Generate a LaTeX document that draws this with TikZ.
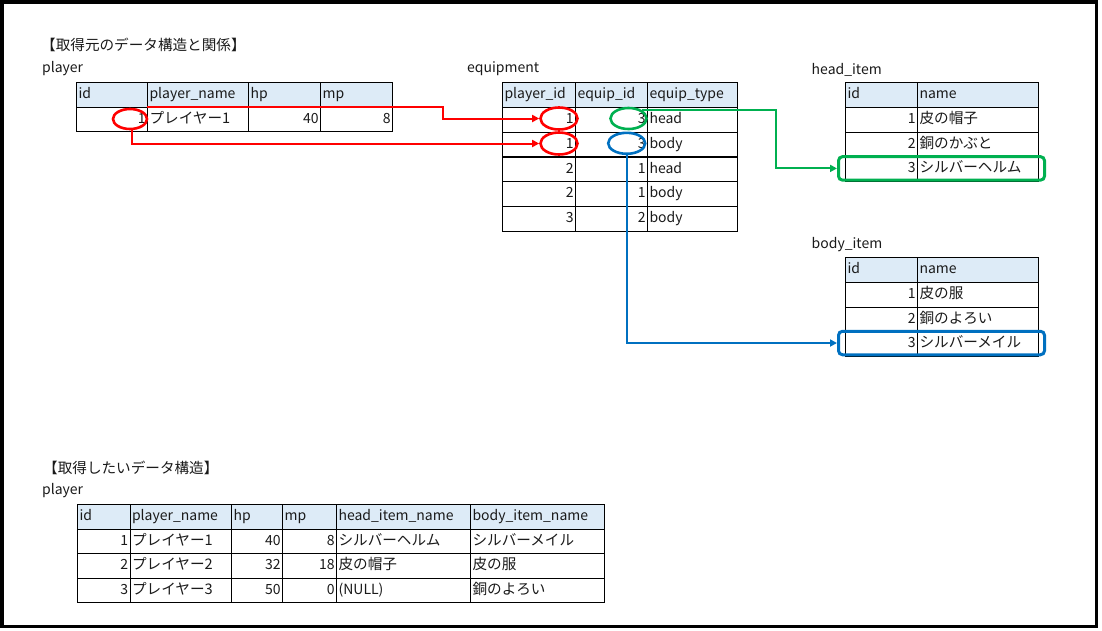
\documentclass[tikz,border=0pt]{standalone}
\usepackage{fontspec}
\setmainfont{Noto Sans CJK JP}
\usetikzlibrary{shapes.geometric,arrows.meta,calc}
\definecolor{hdr}{HTML}{DDEBF7}
\definecolor{xred}{HTML}{FF0000}
\definecolor{xgreen}{HTML}{00B050}
\definecolor{xblue}{HTML}{0070C0}
\definecolor{ink}{HTML}{1A1A1A}
\newcommand\tcell[6]{\node[#1,text width=#5pt] (#2) at (#3,#4) {#6};}
\newcommand\J[1]{{\fontsize{14.6}{16}\selectfont #1}}
\begin{document}
\begin{tikzpicture}[x=1pt,y=-1pt,
  every node/.style={font=\fontsize{14}{16}\selectfont, text=ink},
  cellbox/.style={draw=black, line width=1.1pt, anchor=north west, inner xsep=2pt, inner ysep=0pt,
    text height=10.5pt, text depth=3pt, minimum height=24.75pt},
  hd/.style={cellbox, fill=hdr, align=left},
  cl/.style={cellbox, align=left},
  cr/.style={cellbox, align=right},
  lbl/.style={anchor=west, inner sep=0pt},
  oval/.style={ellipse, draw=#1, line width=2.6pt, inner sep=0pt},
  hilite/.style={draw=#1, line width=3pt, rounded corners=4pt, inner sep=0pt, minimum width=206pt, minimum height=23.5pt},
  conn/.style={draw=#1, line width=2pt, -{Triangle[length=7pt,width=7pt]}}
]
\useasboundingbox (0,0) rectangle (1102,630);
\draw[line width=3.5pt] (1.75,2) rectangle (1096.6,626.3);

% titles and labels
\node[lbl] (t1) at (41,44.7) {\J{【取得元のデータ構造と関係】}};
\node[lbl] (l1) at (42,69) {player};
\node[lbl] (l2) at (467,69) {equipment};
\node[lbl] (l3) at (811.5,70) {head\_item};
\node[lbl] (l4) at (811.5,245) {body\_item};
\node[lbl] (t2) at (43,468) {\J{【取得したいデータ構造】}};
\node[lbl] (l5) at (42,491) {player};

% player (source)
\tcell{hd}{ph1}{76}{82}{67}{id}
\tcell{hd}{ph2}{147}{82}{97}{player\_name}
\tcell{hd}{ph3}{248}{82}{68}{hp}
\tcell{hd}{ph4}{320}{82}{68}{mp}
\tcell{cr}{pa1}{76}{106.5}{67}{1}
\tcell{cl}{pa2}{147}{106.5}{97}{\J{プレイヤー1}}
\tcell{cr}{pa3}{248}{106.5}{68}{40}
\tcell{cr}{pa4}{320}{106.5}{68}{8}

% equipment
\tcell{hd}{eh1}{502}{82}{69}{player\_id}
\tcell{hd}{eh2}{575}{82}{68}{equip\_id}
\tcell{hd}{eh3}{647}{82}{86}{equip\_type}
\tcell{cr}{ea1}{502}{106.8}{69}{1}
\tcell{cr}{ea2}{575}{106.8}{68}{3}
\tcell{cl}{ea3}{647}{106.8}{86}{head}
\tcell{cr}{eb1}{502}{131.7}{69}{1}
\tcell{cr}{eb2}{575}{131.7}{68}{3}
\tcell{cl}{eb3}{647}{131.7}{86}{body}
\tcell{cr}{ec1}{502}{156.5}{69}{2}
\tcell{cr}{ec2}{575}{156.5}{68}{1}
\tcell{cl}{ec3}{647}{156.5}{86}{head}
\tcell{cr}{ed1}{502}{181.3}{69}{2}
\tcell{cr}{ed2}{575}{181.3}{68}{1}
\tcell{cl}{ed3}{647}{181.3}{86}{body}
\tcell{cr}{ee1}{502}{206.2}{69}{3}
\tcell{cr}{ee2}{575}{206.2}{68}{2}
\tcell{cl}{ee3}{647}{206.2}{86}{body}

% head_item
\tcell{hd}{hh1}{845}{82}{68}{id}
\tcell{hd}{hh2}{917}{82}{117}{name}
\tcell{cr}{ha1}{845}{106.75}{68}{1}
\tcell{cl}{ha2}{917}{106.75}{117}{\J{皮の帽子}}
\tcell{cr}{hb1}{845}{131.5}{68}{2}
\tcell{cl}{hb2}{917}{131.5}{117}{\J{銅のかぶと}}
\tcell{cr}{hc1}{845}{156.25}{68}{3}
\tcell{cl}{hc2}{917}{156.25}{117}{\J{シルバーヘルム}}

% body_item
\tcell{hd}{bh1}{845}{257}{68}{id}
\tcell{hd}{bh2}{917}{257}{117}{name}
\tcell{cr}{ba1}{845}{281.75}{68}{1}
\tcell{cl}{ba2}{917}{281.75}{117}{\J{皮の服}}
\tcell{cr}{bb1}{845}{306.5}{68}{2}
\tcell{cl}{bb2}{917}{306.5}{117}{\J{銅のよろい}}
\tcell{cr}{bc1}{845}{331.25}{68}{3}
\tcell{cl}{bc2}{917}{331.25}{117}{\J{シルバーメイル}}

% player (wanted)
\tcell{hd}{qh1}{77}{504}{48.5}{id}
\tcell{hd}{qh2}{129.5}{504}{97.5}{player\_name}
\tcell{hd}{qh3}{231}{504}{47}{hp}
\tcell{hd}{qh4}{282}{504}{50}{mp}
\tcell{hd}{qh5}{336}{504}{130}{head\_item\_name}
\tcell{hd}{qh6}{470}{504}{129.5}{body\_item\_name}
\tcell{cr}{qa1}{77}{528.5}{48.5}{1}
\tcell{cl}{qa2}{129.5}{528.5}{97.5}{\J{プレイヤー1}}
\tcell{cr}{qa3}{231}{528.5}{47}{40}
\tcell{cr}{qa4}{282}{528.5}{50}{8}
\tcell{cl}{qa5}{336}{528.5}{130}{\J{シルバーヘルム}}
\tcell{cl}{qa6}{470}{528.5}{129.5}{\J{シルバーメイル}}
\tcell{cr}{qb1}{77}{553}{48.5}{2}
\tcell{cl}{qb2}{129.5}{553}{97.5}{\J{プレイヤー2}}
\tcell{cr}{qb3}{231}{553}{47}{32}
\tcell{cr}{qb4}{282}{553}{50}{18}
\tcell{cl}{qb5}{336}{553}{130}{\J{皮の帽子}}
\tcell{cl}{qb6}{470}{553}{129.5}{\J{皮の服}}
\tcell{cr}{qc1}{77}{577.5}{48.5}{3}
\tcell{cl}{qc2}{129.5}{577.5}{97.5}{\J{プレイヤー3}}
\tcell{cr}{qc3}{231}{577.5}{47}{50}
\tcell{cr}{qc4}{282}{577.5}{50}{0}
\tcell{cl}{qc5}{336}{577.5}{130}{(NULL)}
\tcell{cl}{qc6}{470}{577.5}{129.5}{\J{銅のよろい}}

% highlight ovals
\node[oval=xred, minimum width=34pt, minimum height=20pt] (e0) at (130,119) {};
\node[oval=xred, minimum width=37pt, minimum height=22pt] (er1) at (559,118.5) {};
\node[oval=xred, minimum width=37pt, minimum height=22pt] (er2) at (559,143.5) {};
\node[oval=xgreen, minimum width=36pt, minimum height=21pt] (eg) at (628.5,118.5) {};
\node[oval=xblue, minimum width=37pt, minimum height=21pt] (ebl) at (626.7,143.3) {};

% highlight boxes
\node[hilite=xgreen] (hg) at (941.5,168.4) {};
\node[hilite=xblue] (hb) at (941.5,343) {};

% connectors
\coordinate (rx) at (443,0);
\coordinate (gx) at (775.5,0);
\draw[conn=xred] (pa2.north west) -| (rx |- er1.west) -- (er1.west);
\draw[conn=xred] (e0.-80) |- (er2.west);
\draw[conn=xgreen] (eg.31) -| (gx |- hg.west) -- (hg.west);
\draw[conn=xblue] (ebl.south) |- (hb.west);
\end{tikzpicture}
\end{document}
